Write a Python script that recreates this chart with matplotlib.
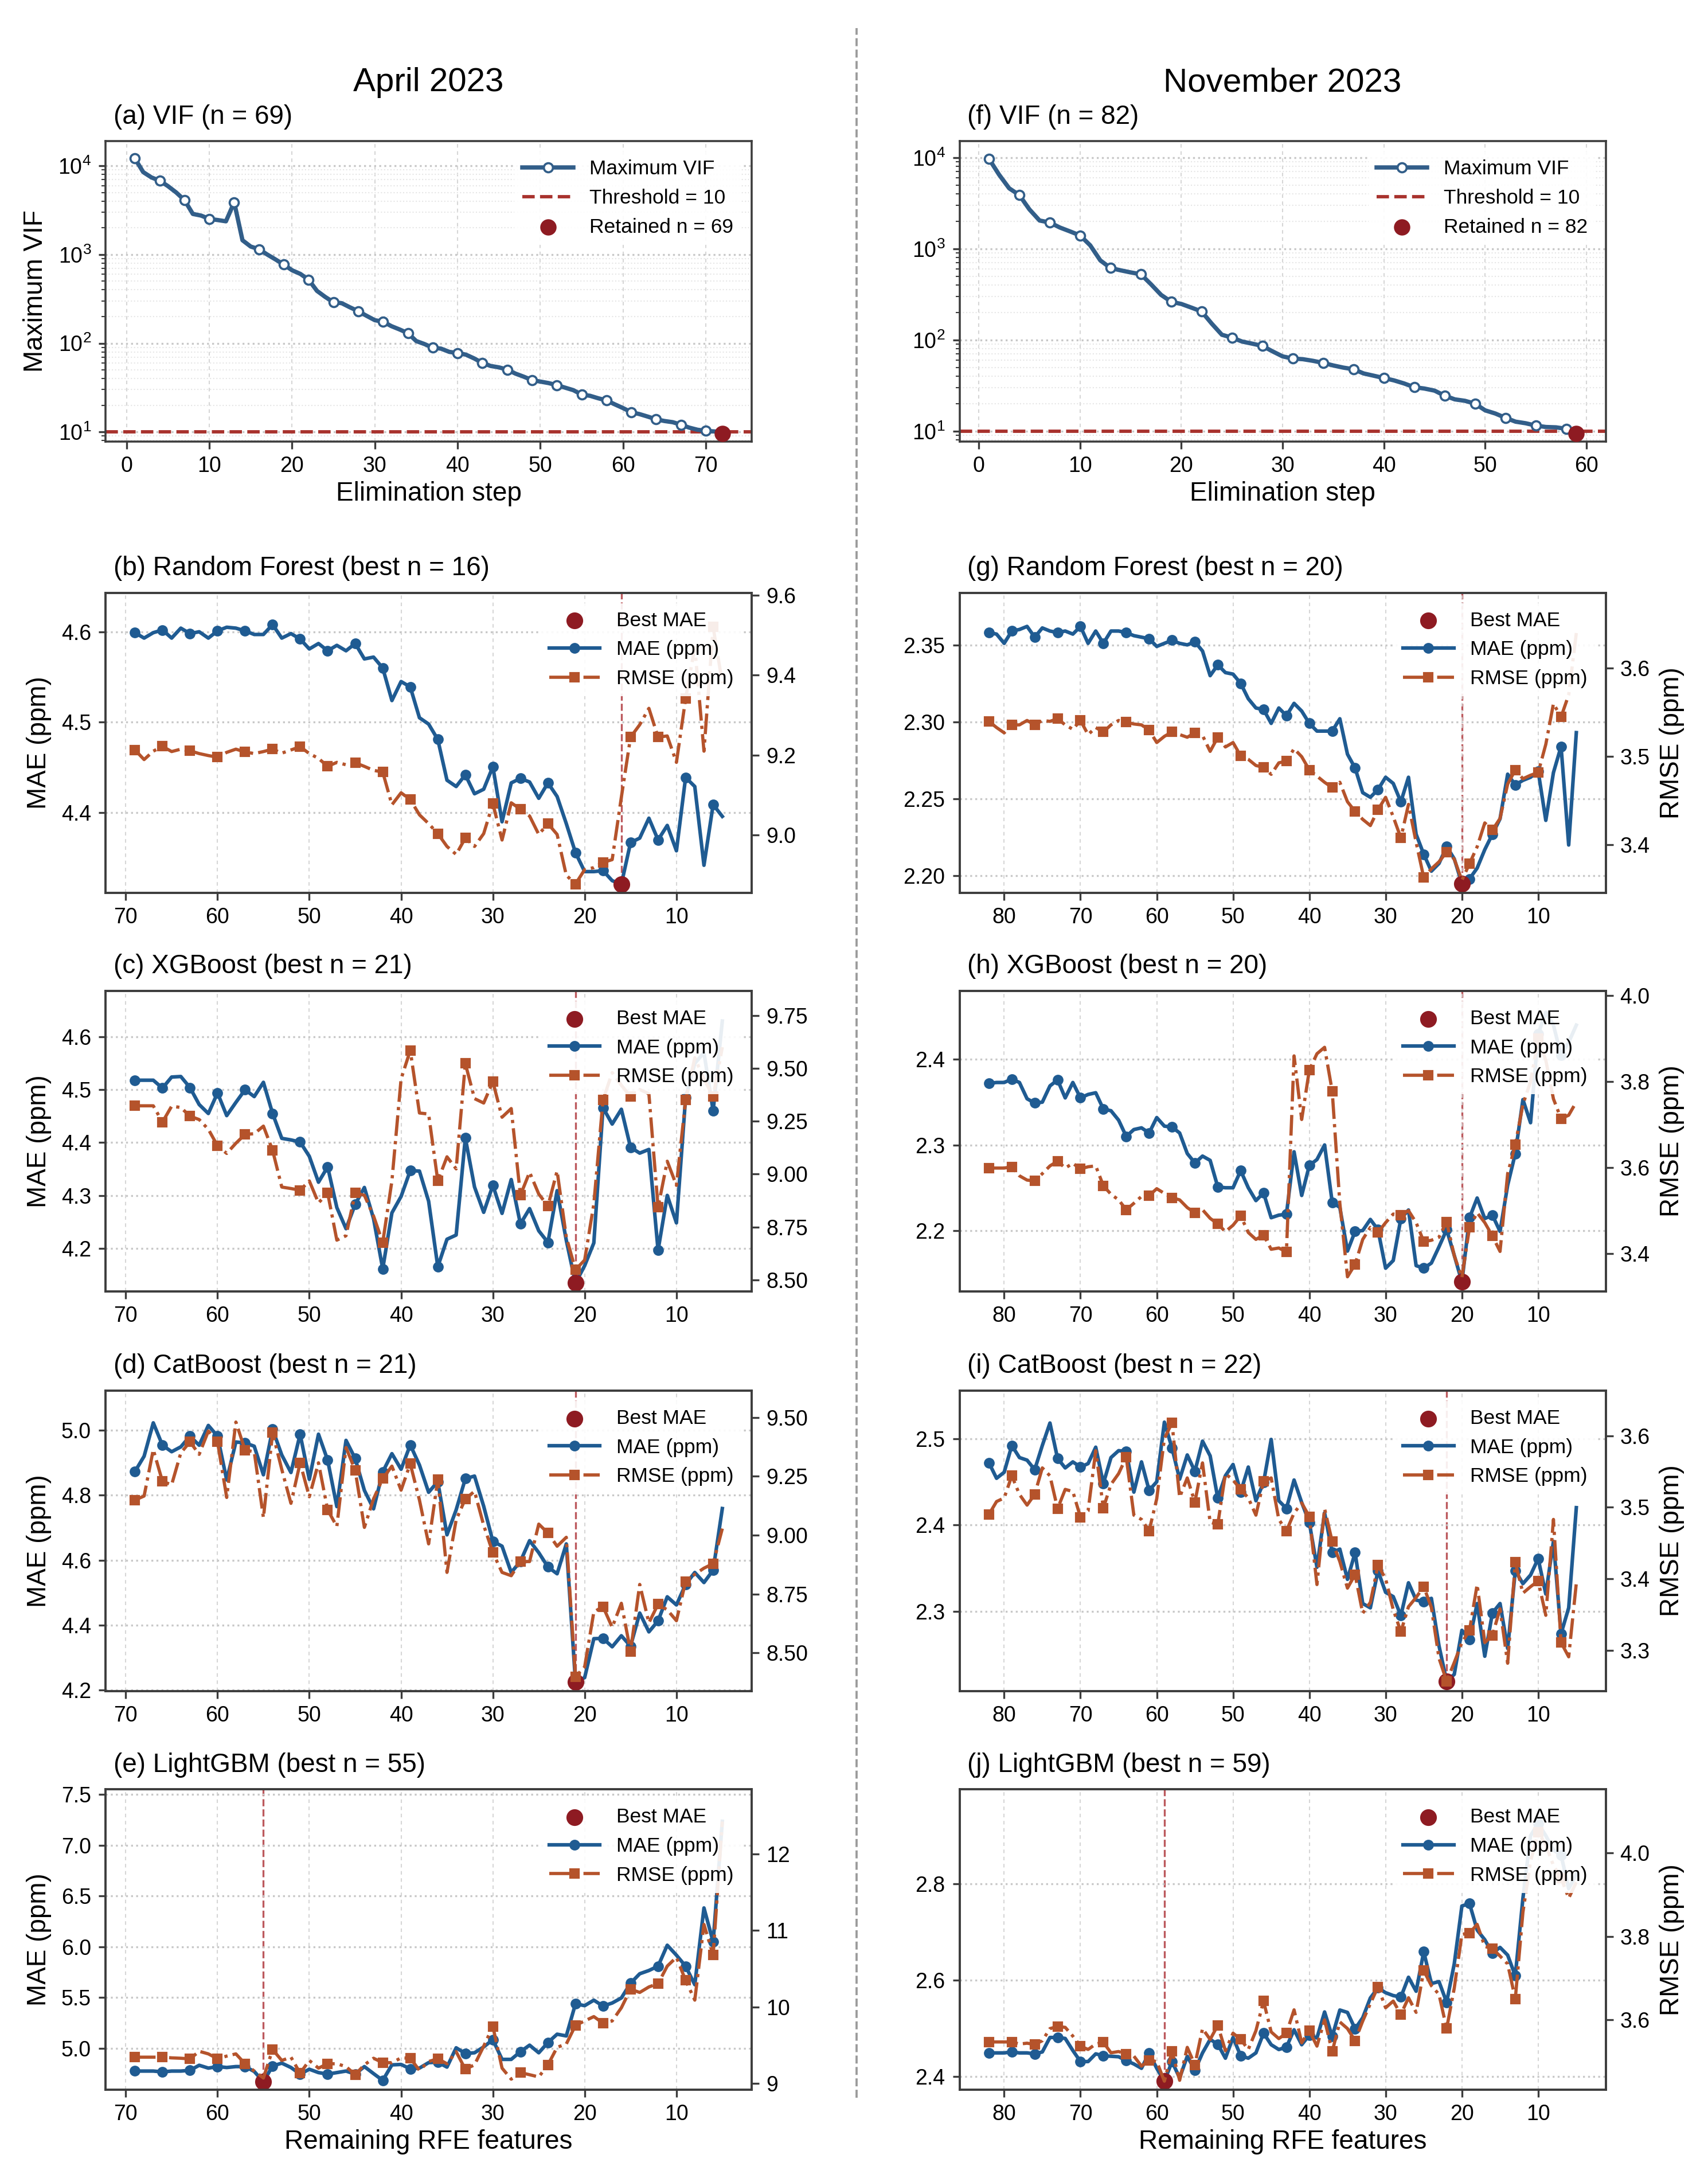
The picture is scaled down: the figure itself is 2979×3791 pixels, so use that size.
import matplotlib
matplotlib.use("Agg")
import matplotlib.pyplot as plt
from matplotlib.ticker import MultipleLocator
from matplotlib.lines import Line2D

plt.rcParams['font.family'] = ['Liberation Sans', 'DejaVu Sans']
plt.rcParams['mathtext.fontset'] = 'custom'
plt.rcParams['mathtext.rm'] = 'Liberation Sans'
plt.rcParams['mathtext.it'] = 'Liberation Sans:italic'
plt.rcParams['mathtext.bf'] = 'Liberation Sans:bold'

# ---------------- data ----------------
col_titles = ["April 2023", "November 2023"]

vif_apr_steps = list(range(1, 72))
vif_apr = [12100, 8500, 7400, 6800, 5900, 5000, 4100, 2870, 2750, 2520,
           2450, 2370, 3880, 1450, 1230, 1150, 1000, 880, 770, 665,
           605, 520, 390, 333, 290, 283, 254, 230, 204, 182,
           175, 156, 143, 130, 106, 98, 89, 87, 80, 77.5,
           74.5, 67.5, 60, 55.5, 53.5, 50.5, 45.5, 42, 38.5, 37,
           35.6, 33.7, 31.6, 29.6, 26.4, 25.6, 24, 22.7, 20.5, 18.6,
           16.7, 15.9, 14.9, 13.9, 13.3, 12.9, 12.1, 11.2, 10.6, 10.3,
           10.15]
vif_apr_retained = (72, 9.6)

vif_nov_steps = list(range(1, 59))
vif_nov = [9700, 6500, 4600, 3880, 2700, 2040, 1940, 1710, 1550, 1400,
           1090, 745, 615, 580, 550, 525, 408, 312, 262, 248,
           226, 205, 151, 114, 106, 96, 91, 86, 75, 66,
           62.5, 61.5, 59, 56, 52.5, 49.7, 47.7, 42.9, 40.5, 38.2,
           36, 33.3, 30.3, 29.3, 27.8, 24.5, 22.3, 21.5, 20.0, 16.9,
           15.6, 14.0, 12.7, 12.2, 11.5, 11.1, 11.0, 10.6]
vif_nov_retained = (59, 9.4)

feat_apr = list(range(69, 4, -1))   # 69 ... 5
feat_nov = list(range(82, 4, -1))   # 82 ... 5

rf_apr_mae = [4.599, 4.593, 4.599, 4.602, 4.593, 4.604, 4.598, 4.600, 4.593, 4.601,
              4.605, 4.604, 4.601, 4.597, 4.597, 4.608, 4.593, 4.598, 4.592, 4.581,
              4.587, 4.579, 4.585, 4.579, 4.587, 4.570, 4.572, 4.560, 4.524, 4.545,
              4.539, 4.505, 4.498, 4.481, 4.436, 4.429, 4.442, 4.421, 4.426, 4.451,
              4.390, 4.433, 4.438, 4.434, 4.416, 4.433, 4.418, 4.388, 4.356, 4.335,
              4.335, 4.336, 4.325, 4.321, 4.367, 4.372, 4.394, 4.370, 4.386, 4.358,
              4.439, 4.429, 4.342, 4.409, 4.396]
rf_apr_rmse = [9.213, 9.189, 9.210, 9.222, 9.209, 9.215, 9.211, 9.204, 9.199, 9.195,
               9.207, 9.215, 9.208, 9.204, 9.209, 9.215, 9.205, 9.213, 9.221, 9.204,
               9.192, 9.172, 9.182, 9.176, 9.181, 9.172, 9.162, 9.158, 9.076, 9.106,
               9.089, 9.051, 9.029, 9.004, 8.972, 8.952, 8.993, 8.972, 9.004, 9.079,
               8.988, 9.081, 9.065, 9.048, 9.002, 9.029, 9.002, 8.900, 8.878, 8.914,
               8.919, 8.932, 8.939, 9.095, 9.245, 9.276, 9.317, 9.245, 9.248, 9.182,
               9.341, 9.470, 9.210, 9.520, 9.380]

xgb_apr_mae = [4.518, 4.518, 4.518, 4.503, 4.524, 4.525, 4.504, 4.472, 4.455, 4.494,
               4.451, 4.476, 4.500, 4.487, 4.514, 4.455, 4.408, 4.405, 4.401, 4.374,
               4.325, 4.354, 4.277, 4.237, 4.283, 4.315, 4.256, 4.161, 4.267, 4.298,
               4.347, 4.346, 4.289, 4.165, 4.217, 4.225, 4.409, 4.316, 4.268, 4.319,
               4.266, 4.330, 4.246, 4.275, 4.233, 4.211, 4.309, 4.215, 4.134, 4.167,
               4.210, 4.466, 4.435, 4.463, 4.391, 4.380, 4.387, 4.196, 4.300, 4.248,
               4.485, 4.550, 4.570, 4.460, 4.630]
xgb_apr_rmse = [9.323, 9.323, 9.323, 9.246, 9.321, 9.315, 9.274, 9.258, 9.212, 9.134,
                9.098, 9.146, 9.188, 9.191, 9.227, 9.113, 8.939, 8.932, 8.924, 8.968,
                8.864, 8.911, 8.688, 8.709, 8.911, 8.900, 8.802, 8.677, 8.968, 9.450,
                9.585, 9.289, 9.284, 8.968, 9.082, 9.025, 9.523, 9.357, 9.336, 9.437,
                9.269, 9.310, 8.900, 9.009, 8.906, 8.849, 9.015, 8.703, 8.548, 8.594,
                8.859, 9.350, 9.480, 9.420, 9.367, 9.400, 9.380, 8.843, 9.061, 8.947,
                9.350, 9.550, 9.450, 9.367, 9.600]

cat_apr_mae = [4.873, 4.920, 5.023, 4.954, 4.934, 4.949, 4.982, 4.954, 5.015, 4.982,
               4.847, 4.964, 4.961, 4.951, 4.863, 5.003, 4.924, 4.870, 4.988, 4.849,
               4.988, 4.908, 4.765, 4.969, 4.913, 4.815, 4.758, 4.872, 4.928, 4.880,
               4.955, 4.893, 4.809, 4.842, 4.678, 4.755, 4.851, 4.859, 4.766, 4.658,
               4.643, 4.562, 4.596, 4.660, 4.623, 4.579, 4.558, 4.650, 4.225, 4.238,
               4.358, 4.359, 4.333, 4.367, 4.335, 4.437, 4.379, 4.413, 4.487, 4.462,
               4.525, 4.562, 4.531, 4.569, 4.759]
cat_apr_rmse = [9.149, 9.166, 9.363, 9.228, 9.214, 9.349, 9.396, 9.343, 9.442, 9.396,
                9.160, 9.480, 9.361, 9.354, 9.074, 9.435, 9.279, 9.135, 9.307, 9.163,
                9.307, 9.107, 9.037, 9.372, 9.275, 9.033, 9.154, 9.240, 9.293, 9.191,
                9.303, 9.149, 8.963, 9.237, 8.842, 9.065, 9.154, 9.186, 9.042, 8.926,
                8.842, 8.828, 8.888, 8.888, 9.047, 9.009, 8.953, 8.991, 8.399, 8.441,
                8.674, 8.697, 8.609, 8.711, 8.507, 8.791, 8.628, 8.707, 8.683, 8.637,
                8.804, 8.834, 8.860, 8.879, 9.028]

lgb_apr_mae = [4.777, 4.777, 4.777, 4.769, 4.777, 4.777, 4.784, 4.834, 4.806, 4.821,
               4.812, 4.821, 4.821, 4.773, 4.672, 4.827, 4.855, 4.812, 4.747, 4.795,
               4.762, 4.747, 4.762, 4.777, 4.747, 4.821, 4.752, 4.685, 4.838, 4.842,
               4.799, 4.806, 4.860, 4.864, 4.816, 5.006, 4.950, 4.957, 5.015, 5.086,
               4.892, 4.892, 4.968, 5.032, 4.957, 5.058, 5.140, 5.123, 5.439, 5.421,
               5.475, 5.417, 5.447, 5.497, 5.642, 5.735, 5.767, 5.810, 6.016, 5.918,
               5.810, 5.627, 6.383, 6.048, 7.236]
lgb_apr_rmse = [9.344, 9.344, 9.344, 9.344, 9.335, 9.330, 9.321, 9.421, 9.387, 9.324,
                9.358, 9.387, 9.258, 9.163, 9.072, 9.444, 9.301, 9.344, 9.135, 9.301,
                9.201, 9.258, 9.258, 9.221, 9.115, 9.244, 9.330, 9.272, 9.272, 9.335,
                9.330, 9.172, 9.287, 9.324, 9.258, 9.415, 9.186, 9.244, 9.487, 9.745,
                9.201, 9.057, 9.143, 9.115, 9.086, 9.244, 9.473, 9.516, 9.759, 9.817,
                9.874, 9.788, 9.817, 9.989, 10.232, 10.189, 10.261, 10.304, 10.533, 10.648,
                10.347, 10.089, 11.077, 10.676, 12.420]

rf_nov_mae = [2.358, 2.357, 2.351, 2.359, 2.360, 2.362, 2.355, 2.361, 2.359, 2.358,
              2.359, 2.357, 2.362, 2.351, 2.359, 2.351, 2.359, 2.359, 2.358, 2.356,
              2.355, 2.354, 2.349, 2.351, 2.353, 2.351, 2.350, 2.352, 2.346, 2.330,
              2.337, 2.332, 2.331, 2.325, 2.315, 2.309, 2.308, 2.299, 2.309, 2.304,
              2.312, 2.307, 2.299, 2.294, 2.294, 2.294, 2.302, 2.279, 2.270, 2.254,
              2.251, 2.256, 2.264, 2.260, 2.248, 2.264, 2.227, 2.214, 2.203, 2.208,
              2.219, 2.211, 2.195, 2.198, 2.205, 2.217, 2.227, 2.237, 2.266, 2.259,
              2.262, 2.264, 2.268, 2.236, 2.267, 2.284, 2.220, 2.293]
rf_nov_rmse = [3.540, 3.533, 3.527, 3.536, 3.536, 3.541, 3.536, 3.541, 3.540, 3.543,
               3.536, 3.531, 3.541, 3.525, 3.533, 3.528, 3.536, 3.541, 3.539, 3.537,
               3.536, 3.530, 3.516, 3.523, 3.528, 3.525, 3.522, 3.527, 3.524, 3.506,
               3.522, 3.511, 3.516, 3.501, 3.497, 3.490, 3.488, 3.480, 3.493, 3.495,
               3.509, 3.500, 3.485, 3.478, 3.471, 3.465, 3.471, 3.449, 3.438, 3.429,
               3.422, 3.440, 3.454, 3.432, 3.408, 3.446, 3.403, 3.363, 3.373, 3.381,
               3.392, 3.384, 3.360, 3.379, 3.398, 3.425, 3.417, 3.430, 3.469, 3.485,
               3.475, 3.479, 3.482, 3.514, 3.560, 3.545, 3.570, 3.640]

xgb_nov_mae = [2.372, 2.373, 2.373, 2.377, 2.373, 2.354, 2.349, 2.350, 2.369, 2.376,
               2.355, 2.373, 2.355, 2.359, 2.361, 2.342, 2.340, 2.329, 2.310, 2.318,
               2.320, 2.314, 2.332, 2.322, 2.321, 2.314, 2.290, 2.279, 2.287, 2.282,
               2.251, 2.250, 2.250, 2.270, 2.250, 2.235, 2.244, 2.215, 2.218, 2.219,
               2.292, 2.241, 2.276, 2.283, 2.300, 2.233, 2.227, 2.176, 2.199, 2.200,
               2.213, 2.201, 2.156, 2.165, 2.214, 2.224, 2.159, 2.156, 2.162, 2.181,
               2.201, 2.171, 2.140, 2.215, 2.238, 2.214, 2.218, 2.199, 2.253, 2.290,
               2.353, 2.326, 2.430, 2.455, 2.440, 2.405, 2.420, 2.440]
xgb_nov_rmse = [3.599, 3.599, 3.599, 3.602, 3.581, 3.571, 3.569, 3.586, 3.604, 3.615,
                3.599, 3.610, 3.597, 3.602, 3.604, 3.558, 3.538, 3.525, 3.502, 3.517,
                3.533, 3.535, 3.551, 3.540, 3.530, 3.525, 3.507, 3.495, 3.502, 3.482,
                3.469, 3.451, 3.466, 3.488, 3.449, 3.433, 3.443, 3.410, 3.413, 3.404,
                3.860, 3.712, 3.827, 3.865, 3.880, 3.778, 3.517, 3.346, 3.375, 3.433,
                3.461, 3.449, 3.472, 3.492, 3.489, 3.500, 3.472, 3.428, 3.431, 3.438,
                3.474, 3.395, 3.344, 3.461, 3.495, 3.472, 3.441, 3.405, 3.586, 3.653,
                3.747, 3.800, 3.900, 3.850, 3.760, 3.714, 3.722, 3.753]

cat_nov_mae = [2.472, 2.454, 2.461, 2.492, 2.478, 2.475, 2.464, 2.492, 2.518, 2.477,
               2.466, 2.473, 2.467, 2.471, 2.490, 2.448, 2.478, 2.486, 2.485, 2.438,
               2.473, 2.440, 2.450, 2.519, 2.489, 2.453, 2.481, 2.462, 2.497, 2.480,
               2.431, 2.457, 2.470, 2.438, 2.467, 2.428, 2.449, 2.499, 2.428, 2.419,
               2.452, 2.426, 2.403, 2.351, 2.414, 2.368, 2.372, 2.337, 2.368, 2.309,
               2.304, 2.347, 2.322, 2.317, 2.295, 2.333, 2.313, 2.311, 2.315, 2.260,
               2.219, 2.227, 2.278, 2.267, 2.309, 2.248, 2.298, 2.309, 2.257, 2.347,
               2.332, 2.342, 2.361, 2.320, 2.381, 2.274, 2.304, 2.420]
cat_nov_rmse = [3.490, 3.508, 3.513, 3.544, 3.518, 3.503, 3.518, 3.555, 3.544, 3.498,
                3.525, 3.522, 3.486, 3.495, 3.579, 3.499, 3.532, 3.547, 3.570, 3.489,
                3.483, 3.467, 3.512, 3.596, 3.618, 3.514, 3.541, 3.507, 3.562, 3.479,
                3.476, 3.547, 3.538, 3.525, 3.513, 3.489, 3.536, 3.541, 3.483, 3.467,
                3.492, 3.506, 3.487, 3.392, 3.498, 3.452, 3.424, 3.387, 3.406, 3.352,
                3.367, 3.419, 3.400, 3.357, 3.326, 3.361, 3.374, 3.389, 3.360, 3.289,
                3.257, 3.283, 3.311, 3.328, 3.392, 3.311, 3.321, 3.358, 3.282, 3.423,
                3.380, 3.389, 3.397, 3.349, 3.483, 3.311, 3.291, 3.394]

lgb_nov_mae = [2.449, 2.449, 2.449, 2.451, 2.449, 2.449, 2.447, 2.451, 2.481, 2.481,
               2.479, 2.454, 2.431, 2.431, 2.447, 2.443, 2.442, 2.441, 2.433, 2.426,
               2.417, 2.449, 2.417, 2.390, 2.431, 2.397, 2.442, 2.413, 2.449, 2.477,
               2.467, 2.438, 2.481, 2.443, 2.438, 2.449, 2.490, 2.466, 2.456, 2.461,
               2.497, 2.466, 2.486, 2.480, 2.534, 2.483, 2.538, 2.533, 2.499, 2.522,
               2.563, 2.584, 2.574, 2.568, 2.565, 2.606, 2.577, 2.659, 2.593, 2.597,
               2.554, 2.634, 2.754, 2.759, 2.704, 2.684, 2.656, 2.668, 2.652, 2.609,
               2.770, 2.900, 2.925, 2.900, 2.870, 2.860, 2.790, 2.820]
lgb_nov_rmse = [3.547, 3.547, 3.547, 3.547, 3.542, 3.544, 3.541, 3.550, 3.579, 3.584,
                3.582, 3.561, 3.537, 3.529, 3.542, 3.546, 3.521, 3.524, 3.518, 3.513,
                3.489, 3.503, 3.500, 3.453, 3.524, 3.455, 3.534, 3.492, 3.579, 3.553,
                3.587, 3.526, 3.568, 3.553, 3.529, 3.574, 3.645, 3.571, 3.555, 3.568,
                3.624, 3.545, 3.574, 3.537, 3.600, 3.524, 3.595, 3.579, 3.550, 3.597,
                3.639, 3.679, 3.629, 3.645, 3.613, 3.653, 3.618, 3.718, 3.682, 3.661,
                3.579, 3.676, 3.805, 3.808, 3.829, 3.776, 3.771, 3.753, 3.734, 3.650,
                3.858, 3.980, 4.050, 4.020, 3.970, 3.940, 3.892, 3.930]

models = ["Random Forest", "XGBoost", "CatBoost", "LightGBM"]
best_apr = [16, 21, 21, 55]
best_nov = [20, 20, 22, 59]
letters_apr = ["b", "c", "d", "e"]
letters_nov = ["g", "h", "i", "j"]

# ---------------- styles ----------------
C_VIF = '#325e89'
C_MAE = '#1f5b92'
C_RMSE = '#b5532b'
C_BEST = '#8e1b22'
C_THR = '#a8322d'
C_VLINE = '#b5474b'
SPINE = '#3c3c3c'

fig = plt.figure(figsize=(2979 / 300, 3791 / 300), dpi=300)

XL, XR, W = 0.0618, 0.5618, 0.3783
rows = [(0.797, 0.138), (0.5893, 0.138), (0.4059, 0.1383), (0.2222, 0.1381), (0.0388, 0.1381)]


def style(a):
    for s in a.spines.values():
        s.set_color(SPINE)
        s.set_linewidth(0.85)
    a.tick_params(axis='both', which='major', length=3, width=0.8, color=SPINE,
                  labelsize=9, pad=3)


def panel_title(a, text):
    a.annotate(text, xy=(0.012, 1.0), xycoords='axes fraction', xytext=(0, 5),
               textcoords='offset points', ha='left', va='bottom', fontsize=11)


def grids(a):
    a.grid(axis='x', which='major', ls=(0, (3, 3)), lw=0.5, color='#d6d6d6')
    a.grid(axis='y', which='major', ls=':', lw=0.8, color='#c8c8c8')


def vif_panel(a, steps, vals, ret, n, xlim, ylim, label, ylabel):
    a.set_yscale('log')
    a.plot(steps, vals, color=C_VIF, lw=1.8, marker='o', markevery=3, ms=3.8,
           mfc='white', mec=C_VIF, mew=0.9, label='Maximum VIF', zorder=3)
    a.axhline(10, color=C_THR, ls='--', lw=1.4, label='Threshold = 10', zorder=2)
    a.scatter([ret[0]], [ret[1]], s=34, color=C_BEST, zorder=5,
              label='Retained n = %d' % n)
    a.set_xlim(*xlim)
    a.set_ylim(*ylim)
    grids(a)
    a.grid(axis='y', which='minor', ls=':', lw=0.5, color='#e6e6e6')
    style(a)
    a.tick_params(axis='y', which='minor', length=1.8, width=0.5, color=SPINE)
    a.set_xlabel('Elimination step', fontsize=11, labelpad=2)
    if ylabel:
        a.set_ylabel('Maximum VIF', fontsize=11)
    panel_title(a, label)
    a.legend(loc='upper right', fontsize=8.5, frameon=True, framealpha=0.92,
             edgecolor='none', facecolor='white', handlelength=2.5)


def rfe_panel(a, feats, mae, rmse, best_n, mae_lim, rmse_lim, mae_step, rmse_step,
              title, left_lab, right_lab, xlim, xlabel):
    a2 = a.twinx()
    bi = feats.index(best_n)
    a.axvline(best_n, color=C_VLINE, ls='--', lw=0.8, alpha=0.9, zorder=1.5)
    l_mae, = a.plot(feats, mae, color=C_MAE, lw=1.5, marker='o', markevery=3, ms=3.5,
                    label='MAE (ppm)', zorder=3)
    sc = a.scatter([best_n], [mae[bi]], s=36, color=C_BEST, zorder=6, label='Best MAE')
    l_rmse, = a2.plot(feats, rmse, color=C_RMSE, lw=1.35, ls='-.', marker='s', markevery=3,
                      ms=3.4, label='RMSE (ppm)', zorder=3)
    a.set_xlim(*xlim)
    a.set_ylim(*mae_lim)
    a2.set_ylim(*rmse_lim)
    a.yaxis.set_major_locator(MultipleLocator(mae_step))
    a2.yaxis.set_major_locator(MultipleLocator(rmse_step))
    a.xaxis.set_major_locator(MultipleLocator(10))
    grids(a)
    style(a)
    style(a2)
    if left_lab:
        a.set_ylabel('MAE (ppm)', fontsize=11)
    if right_lab:
        a2.set_ylabel('RMSE (ppm)', fontsize=11)
    if xlabel:
        a.set_xlabel('Remaining RFE features', fontsize=11, labelpad=2)
    panel_title(a, title)
    a2.legend([sc, l_mae, l_rmse], ['Best MAE', 'MAE (ppm)', 'RMSE (ppm)'],
              loc='upper right', fontsize=8.5, frameon=True, framealpha=0.9,
              edgecolor='none', facecolor='white', handlelength=2.5)


# VIF row
ax_a = fig.add_axes([XL, rows[0][0], W, rows[0][1]])
vif_panel(ax_a, vif_apr_steps, vif_apr, vif_apr_retained, 69, (-2.55, 75.55),
          (7.85, 18900), '(a) VIF (n = 69)', True)
ax_f = fig.add_axes([XR, rows[0][0], W, rows[0][1]])
vif_panel(ax_f, vif_nov_steps, vif_nov, vif_nov_retained, 82, (-1.9, 61.9),
          (7.73, 15070), '(f) VIF (n = 82)', False)

apr_data = [(rf_apr_mae, rf_apr_rmse), (xgb_apr_mae, xgb_apr_rmse),
            (cat_apr_mae, cat_apr_rmse), (lgb_apr_mae, lgb_apr_rmse)]
nov_data = [(rf_nov_mae, rf_nov_rmse), (xgb_nov_mae, xgb_nov_rmse),
            (cat_nov_mae, cat_nov_rmse), (lgb_nov_mae, lgb_nov_rmse)]

apr_lims = [((4.3115, 4.643), (8.856, 9.6055), 0.1, 0.2),
            ((4.118, 4.687), (8.445, 9.866), 0.1, 0.25),
            ((4.197, 5.122), (8.339, 9.613), 0.2, 0.25),
            ((4.594, 7.55), (8.92, 12.84), 0.5, 1.0)]
nov_lims = [((2.1889, 2.3838), (3.3458, 3.6855), 0.05, 0.1),
            ((2.1287, 2.48), (3.3116, 4.0112), 0.1, 0.2),
            ((2.2078, 2.5554), (3.2433, 3.6629), 0.1, 0.1),
            ((2.3727, 2.996), (3.4326, 4.1526), 0.2, 0.2)]

for i in range(4):
    b, h = rows[i + 1]
    last = (i == 3)
    a = fig.add_axes([XL, b, W, h])
    m, r = apr_data[i]
    ml, rl, ms_, rs_ = apr_lims[i]
    rfe_panel(a, feat_apr, m, r, best_apr[i], ml, rl, ms_, rs_,
              '(%s) %s (best n = %d)' % (letters_apr[i], models[i], best_apr[i]),
              True, False, (72.2, 1.8), last)
    a = fig.add_axes([XR, b, W, h])
    m, r = nov_data[i]
    ml, rl, ms_, rs_ = nov_lims[i]
    rfe_panel(a, feat_nov, m, r, best_nov[i], ml, rl, ms_, rs_,
              '(%s) %s (best n = %d)' % (letters_nov[i], models[i], best_nov[i]),
              False, True, (85.85, 1.15), last)

# column titles
fig.text(XL + W / 2, 0.962, col_titles[0], ha='center', va='center', fontsize=14)
fig.text(XR + W / 2, 0.962, col_titles[1], ha='center', va='center', fontsize=14)

# divider
fig.add_artist(Line2D([0.5016, 0.5016], [0.035, 0.987], transform=fig.transFigure,
                      ls='--', color='#9a9a9a', lw=0.9))

fig.savefig('out.png', dpi=300, facecolor='white')
